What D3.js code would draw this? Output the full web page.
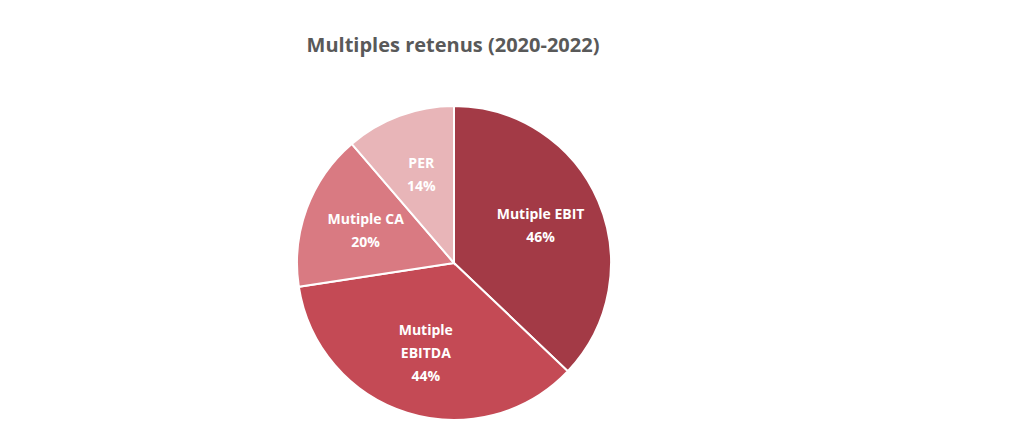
<!DOCTYPE html>
<html><head><meta charset="utf-8">
<script src="https://cdn.jsdelivr.net/npm/d3@7"></script>
<style>body{margin:0;background:#fff}</style>
</head><body>
<svg id="chart" width="1024" height="424"></svg>
<script>
// slice data
var labels = [["Mutiple EBIT"], ["Mutiple", "EBITDA"], ["Mutiple CA"], ["PER"]];
var values = [46, 44, 20, 14];
var colors = ["#a33a46", "#c44a55", "#d97a82", "#e8b5b8"];

var svg = d3.select("#chart");
var cx = 454, cy = 263, r = 157;

svg.append("text").attr("x", 453).attr("y", 52).attr("text-anchor", "middle")
  .attr("font-family", "Open Sans").attr("font-weight", "bold").attr("font-size", 20)
  .attr("fill", "#595959").text("Multiples retenus (2020-2022)");

var pie = d3.pie().sort(null).value(function(d){ return d; });
var arcs = pie(values);
var arc = d3.arc().innerRadius(0).outerRadius(r);
var labelArc = d3.arc().innerRadius(r * 0.6).outerRadius(r * 0.6);

var g = svg.append("g").attr("transform", "translate(" + cx + "," + cy + ")");
g.selectAll("path").data(arcs).enter().append("path")
  .attr("d", arc).attr("fill", function(d, i){ return colors[i]; })
  .attr("stroke", "#fff").attr("stroke-width", 2);

g.selectAll("text.lbl").data(arcs).enter().append("text")
  .attr("class", "lbl")
  .attr("transform", function(d){ return "translate(" + labelArc.centroid(d) + ")"; })
  .attr("text-anchor", "middle").attr("font-family", "Open Sans")
  .attr("font-weight", "bold").attr("font-size", 14).attr("fill", "#fff")
  .each(function(d, i){
    var lines = labels[i].concat([values[i] + "%"]);
    var t = d3.select(this);
    var start = -(lines.length - 1) * 11.5 + 5;
    lines.forEach(function(l, k){
      t.append("tspan").attr("x", 0).attr("y", start + k * 23).text(l);
    });
  });
</script>
</body></html>
